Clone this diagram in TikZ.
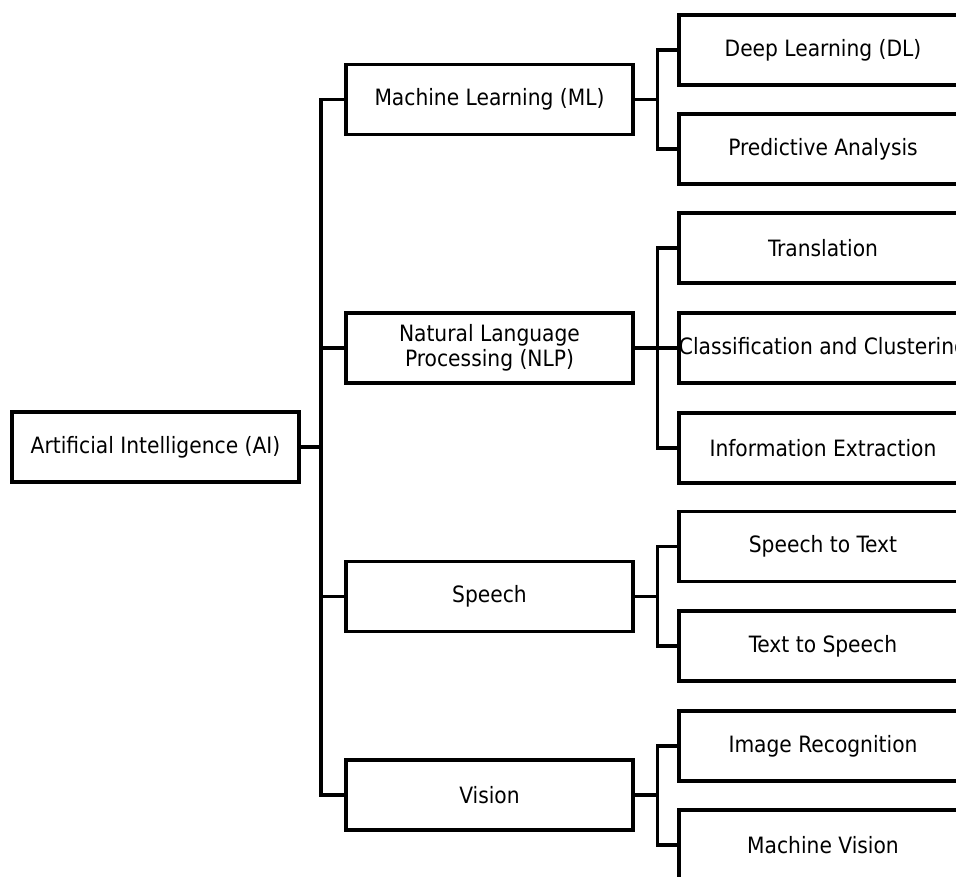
\documentclass[tikz,border=0pt]{standalone}
\usepackage{fontspec}
\setmainfont{DejaVu Sans Condensed}
\begin{document}
\begin{tikzpicture}[x=1pt,y=-1pt,
  box/.style={draw=black, line width=3.2pt, fill=white, minimum height=70pt, inner sep=0pt, align=center, text=black, font=\fontsize{22.5}{25}\selectfont},
  midbox/.style={box, minimum width=287pt},
  leafbox/.style={box, minimum width=288pt},
  conn/.style={draw=black, line width=3.2pt, line cap=rect}]
\useasboundingbox (0,0) rectangle (956,876);
\clip (0,0) rectangle (956,876);
\node[midbox] (ai) at (155.5,447) {Artificial Intelligence (AI)};
\node[midbox] (ml) at (489.5,99.5) {Machine Learning (ML)};
\node[midbox] (nlp) at (489.5,348) {Natural Language\\Processing (NLP)};
\node[midbox] (sp) at (489.5,596.5) {Speech};
\node[midbox] (vi) at (489.5,795) {Vision};
\node[leafbox] (dl) at (823,50) {Deep Learning (DL)};
\node[leafbox] (pa) at (823,149) {Predictive Analysis};
\node[leafbox] (tr) at (823,248) {Translation};
\node[leafbox] (cc) at (823,348) {Classification and Clustering};
\node[leafbox] (ie) at (823,448) {Information Extraction};
\node[leafbox] (stt) at (823,546.5) {Speech to Text};
\node[leafbox] (tts) at (823,646) {Text to Speech};
\node[leafbox] (ir) at (823,746) {Image Recognition};
\node[leafbox] (mv) at (823,845) {Machine Vision};
% main trunk
\draw[conn] (ml.west) -- ++(-23.5,0) coordinate (t1) |- (vi.west);
\draw[conn] (nlp.west) -- (nlp.west -| t1);
\draw[conn] (sp.west) -- (sp.west -| t1);
\draw[conn] (ai.east) -- (ai.east -| t1);
% ML
\draw[conn] (ml.east) -- ++(23,0) coordinate (s1);
\draw[conn] (dl.west) -| (s1) |- (pa.west);
% NLP
\draw[conn] (nlp.east) -- (cc.west);
\draw[conn] (tr.west) -| (nlp.east -| s1) |- (ie.west);
% Speech
\draw[conn] (sp.east) -- ++(23,0) coordinate (s3);
\draw[conn] (stt.west) -| (s3) |- (tts.west);
% Vision
\draw[conn] (vi.east) -- ++(23,0) coordinate (s4);
\draw[conn] (ir.west) -| (s4) |- (mv.west);
\end{tikzpicture}
\end{document}
